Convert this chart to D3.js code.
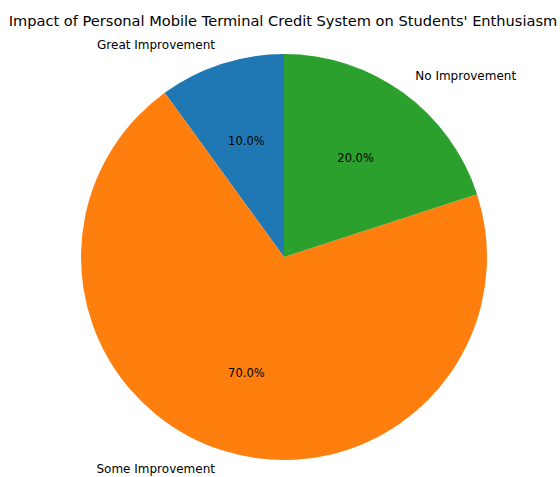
<!DOCTYPE html>
<html>
<head>
<meta charset="utf-8">
<script src="https://cdn.jsdelivr.net/npm/d3@7"></script>
<style>
  html, body { margin: 0; padding: 0; background: #fff; }
  svg { display: block; font-family: "DejaVu Sans", sans-serif; }
</style>
</head>
<body>
<svg id="chart" width="560" height="477"></svg>
<script>
const categories = ["Great Improvement", "Some Improvement", "No Improvement"];
const shares = [10, 70, 20];
const colors = ["#1f77b4", "#ff7f0e", "#2ca02c"];
const title = "Impact of Personal Mobile Terminal Credit System on Students' Enthusiasm";

const width = 560, height = 477;
const cx = 284, cy = 257, radius = 203;

const svg = d3.select("#chart");

svg.append("text")
  .attr("x", 283)
  .attr("y", 26)
  .attr("text-anchor", "middle")
  .attr("font-size", 14.6)
  .attr("fill", "#000")
  .text(title);

// Counter-clockwise from 12 o'clock, like a start angle of 90°
const pie = d3.pie()
  .value(d => d.value)
  .sort(null)
  .startAngle(0)
  .endAngle(-2 * Math.PI);

const data = categories.map((c, i) => ({ name: c, value: shares[i], color: colors[i] }));
const arcs = pie(data);

const arc = d3.arc().innerRadius(0).outerRadius(radius);

const g = svg.append("g").attr("transform", `translate(${cx},${cy})`);

g.selectAll("path.slice")
  .data(arcs)
  .join("path")
  .attr("class", "slice")
  .attr("d", arc)
  .attr("fill", d => d.data.color);

const total = d3.sum(shares);
// d3 angle: 0 at top, clockwise; convert to x/y
function pos(d, r) {
  const a = (d.startAngle + d.endAngle) / 2;
  return [r * Math.sin(a), -r * Math.cos(a)];
}

g.selectAll("text.pct")
  .data(arcs)
  .join("text")
  .attr("class", "pct")
  .attr("x", d => pos(d, radius * 0.6)[0])
  .attr("y", d => pos(d, radius * 0.6)[1])
  .attr("text-anchor", "middle")
  .attr("dominant-baseline", "central")
  .attr("font-size", 11.5)
  .attr("fill", "#000")
  .text(d => (d.data.value / total * 100).toFixed(1) + "%");

g.selectAll("text.lbl")
  .data(arcs)
  .join("text")
  .attr("class", "lbl")
  .attr("x", d => pos(d, radius * 1.1)[0])
  .attr("y", d => pos(d, radius * 1.1)[1])
  .attr("text-anchor", d => pos(d, 1)[0] > 0 ? "start" : "end")
  .attr("dominant-baseline", "central")
  .attr("font-size", 12)
  .attr("fill", "#000")
  .text(d => d.data.name);
</script>
</body>
</html>
